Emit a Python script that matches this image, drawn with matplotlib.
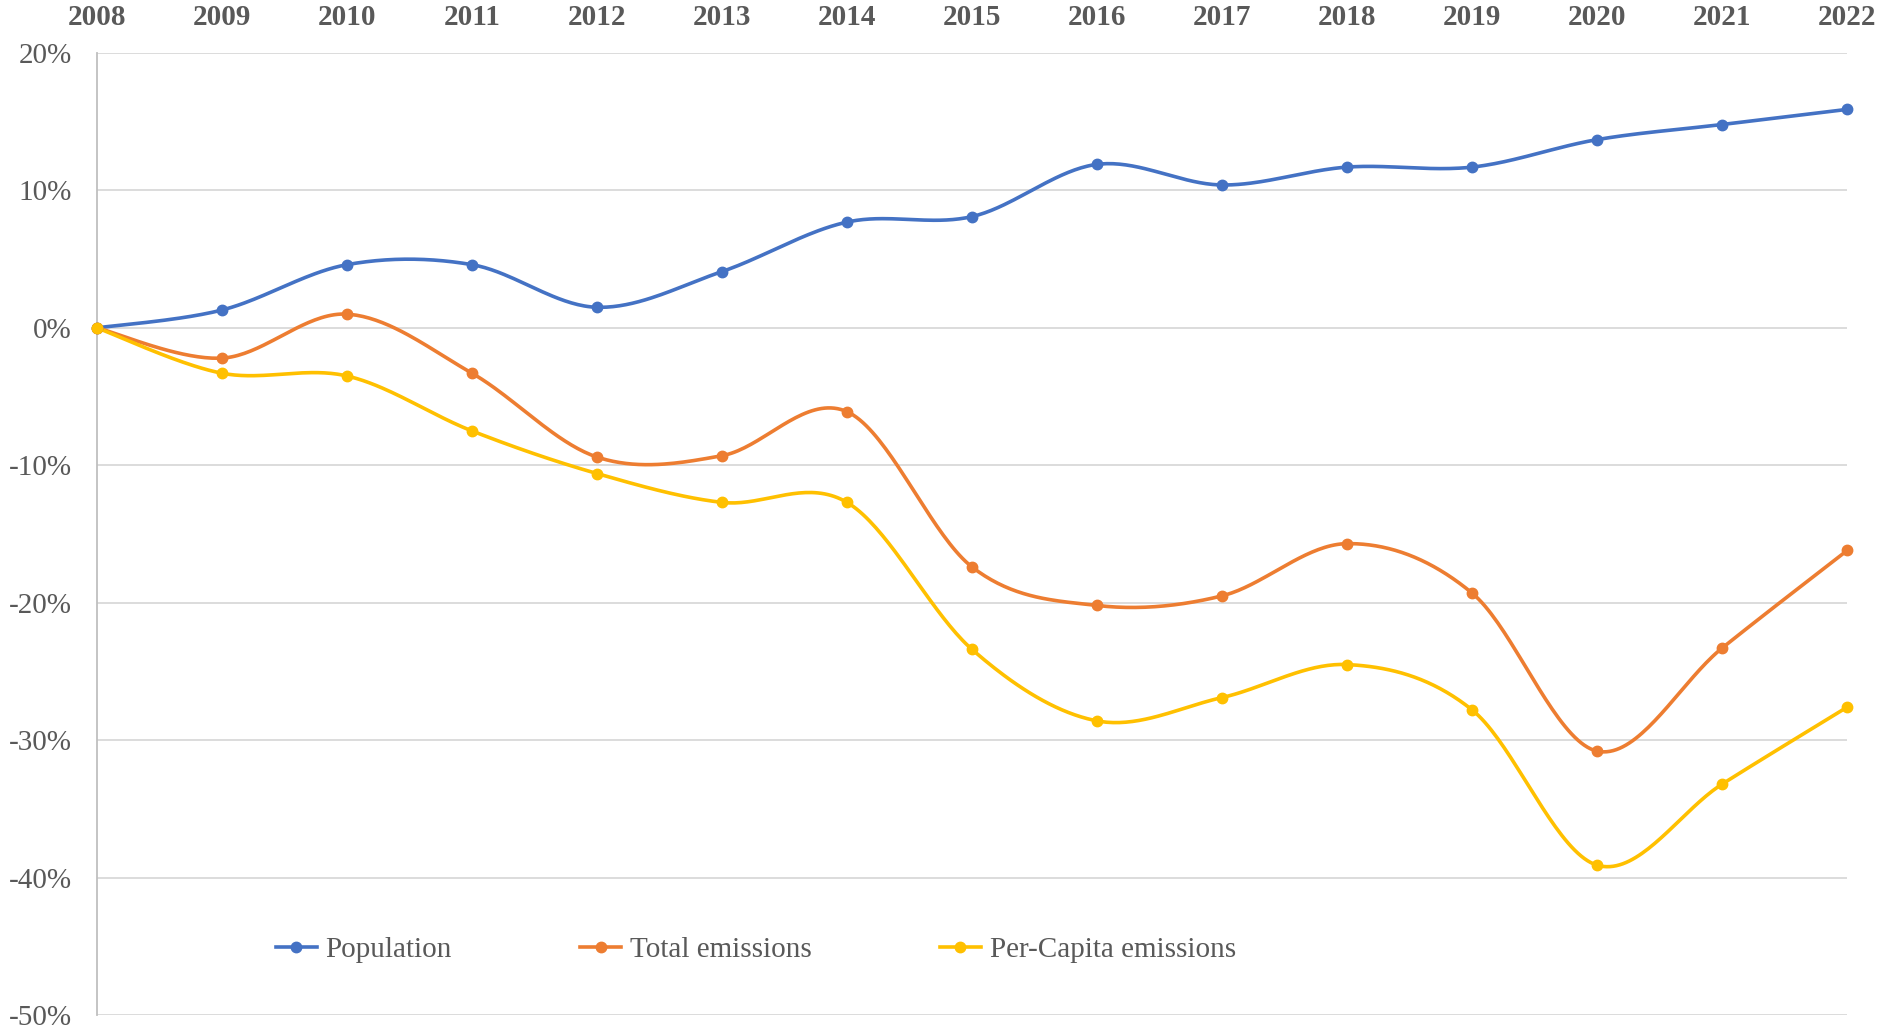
import numpy as np
import matplotlib
matplotlib.use("Agg")
import matplotlib.pyplot as plt
from matplotlib.ticker import FuncFormatter, MultipleLocator

years = [2008, 2009, 2010, 2011, 2012, 2013, 2014, 2015, 2016, 2017, 2018, 2019, 2020, 2021, 2022]
population = [0.0, 1.3, 4.6, 4.6, 1.5, 4.1, 7.7, 8.1, 11.9, 10.4, 11.7, 11.7, 13.7, 14.8, 15.9]
total_emissions = [0.0, -2.2, 1.0, -3.3, -9.4, -9.3, -6.1, -17.4, -20.2, -19.5, -15.7, -19.3, -30.8, -23.3, -16.2]
per_capita = [0.0, -3.3, -3.5, -7.5, -10.6, -12.7, -12.7, -23.4, -28.6, -26.9, -24.5, -27.8, -39.1, -33.2, -27.6]

labels = ["Population", "Total emissions", "Per-Capita emissions"]
colors = ["#4472C4", "#ED7D31", "#FFC000"]

plt.rcParams['font.family'] = ['Liberation Serif', 'DejaVu Serif']

def smooth(x, y, n=40):
    x = np.asarray(x, float)
    y = np.asarray(y, float)
    P = np.column_stack([x, y])
    Pext = np.vstack([P[0], P, P[-1]])
    out = []
    t = np.linspace(0, 1, n)
    for i in range(len(P) - 1):
        p0 = Pext[i + 1]
        p3 = Pext[i + 2]
        c1 = p0 + (Pext[i + 2] - Pext[i]) / 6.0
        c2 = p3 - (Pext[i + 3] - Pext[i + 1]) / 6.0
        seg = ((1 - t)[:, None] ** 3 * p0 + 3 * ((1 - t) ** 2 * t)[:, None] * c1
               + 3 * ((1 - t) * t ** 2)[:, None] * c2 + (t ** 3)[:, None] * p3)
        out.append(seg if i == 0 else seg[1:])
    out = np.vstack(out)
    return out[:, 0], out[:, 1]

fig = plt.figure(figsize=(18.98, 10.32), dpi=100)
ax = fig.add_axes([0.0511, 0.0165, 0.9221, 0.9321])

xs = np.arange(len(years))
for vals, lab, col in zip([population, total_emissions, per_capita], labels, colors):
    sx, sy = smooth(xs, vals)
    ax.plot(sx, sy, color=col, lw=2.6, solid_capstyle='round', zorder=3)
    ax.plot(xs, vals, 'o', color=col, ms=7.5, zorder=4, clip_on=False)
    ax.plot([], [], '-o', color=col, lw=2.6, ms=7.5, label=lab)

ax.set_xlim(0, len(years) - 1)
ax.set_ylim(-50, 20)
ax.yaxis.set_major_locator(MultipleLocator(10))
ax.yaxis.set_major_formatter(FuncFormatter(lambda v, p: f"{v:.0f}%"))
ax.set_xticks(xs)
ax.set_xticklabels([str(y) for y in years])
ax.xaxis.tick_top()
ax.tick_params(axis='x', length=0, pad=16, labelsize=21, labelcolor='#595959')
for t in ax.get_xticklabels():
    t.set_fontweight('bold')
ax.tick_params(axis='y', length=0, pad=18, labelsize=21, labelcolor='#595959')

ax.grid(axis='y', color='#D9D9D9', lw=1.3, zorder=0)
ax.set_axisbelow(True)
for s in ['top', 'right', 'bottom']:
    ax.spines[s].set_visible(False)
ax.spines['left'].set_color('#BFBFBF')
ax.spines['left'].set_linewidth(1.3)

leg = ax.legend(loc='center left', bbox_to_anchor=(0.1023, 0.068), ncol=3, frameon=False,
                fontsize=21, handlelength=1.4, handletextpad=0.3, columnspacing=4.4,
                borderpad=0, borderaxespad=0)
for t in leg.get_texts():
    t.set_color('#595959')

fig.savefig("out.png", dpi=100, facecolor='white')
